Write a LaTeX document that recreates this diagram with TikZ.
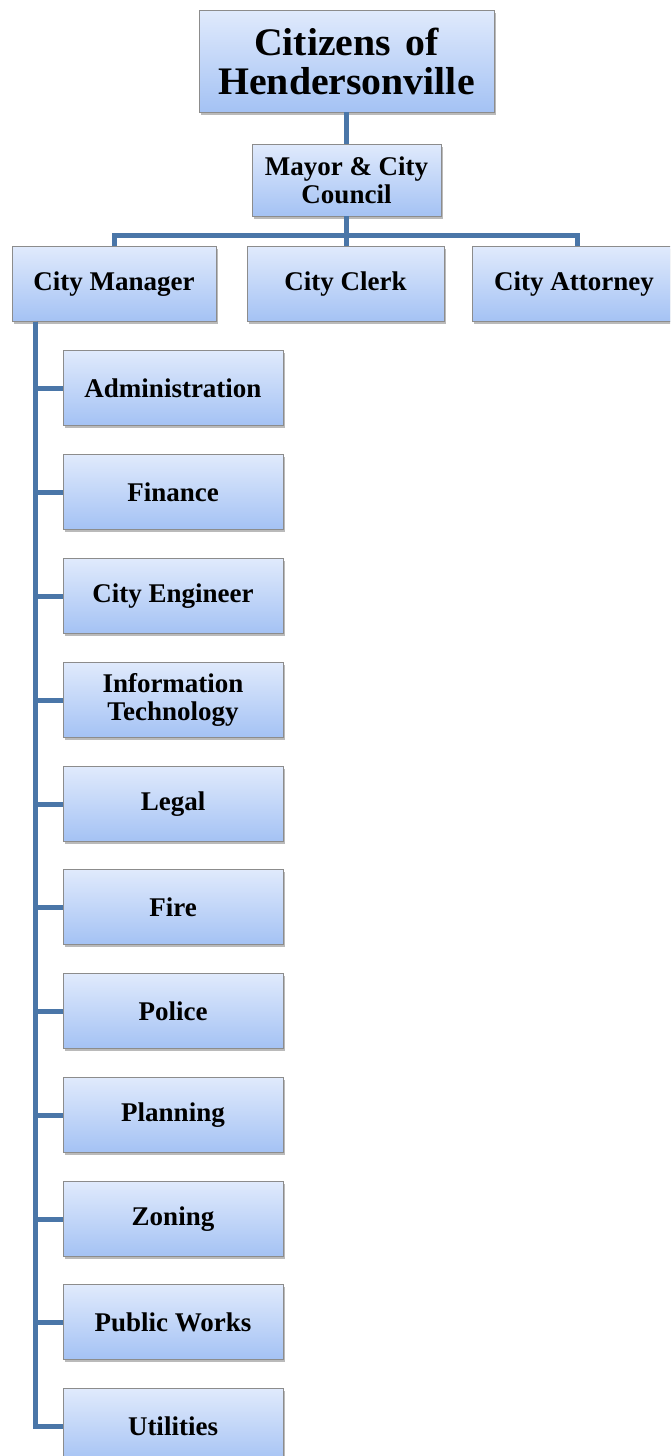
\documentclass[tikz,border=0pt]{standalone}
\usepackage{fontspec}
\setmainfont{Liberation Serif}
\newfontfamily\titlefont[FakeStretch=1.02]{Liberation Serif}
\usetikzlibrary{shadows}
\definecolor{boxtop}{HTML}{E0EAFC}
\definecolor{boxbot}{HTML}{A4C2F4}
\definecolor{boxline}{HTML}{8C8C8C}
\definecolor{linkblue}{HTML}{4A76A8}
\tikzset{
  orgbox/.style={draw=boxline, line width=0.8pt, top color=boxtop, bottom color=boxbot,
    inner sep=0pt, align=center, font=\bfseries\fontsize{27}{28}\selectfont,
    drop shadow={shadow xshift=2pt, shadow yshift=-2.5pt, opacity=0.45, fill=black!60}},
  dept/.style={orgbox, minimum width=220pt, minimum height=75pt},
  link/.style={draw=linkblue, line width=5pt}
}
\begin{document}
\begin{tikzpicture}[x=1pt, y=-1pt]
\useasboundingbox (0,0) rectangle (670,1456);
\clip (0,0) rectangle (670,1456);
% top levels
\node[orgbox, minimum width=295pt, minimum height=102pt,
      font=\titlefont\bfseries\fontsize{39}{39}\selectfont] (cit) at (346.5,61)
      {Citizens\hspace{0.12em} of\\Hendersonville};
\node[orgbox, minimum width=189pt, minimum height=72pt] (may) at (346.5,180) {Mayor \& City\\Council};
\node[orgbox, minimum width=204pt, minimum height=75pt] (mgr) at (114,284) {City Manager};
\node[orgbox, minimum width=197pt, minimum height=75pt] (clk) at (345.5,284) {City Clerk};
\node[orgbox, minimum width=210pt, minimum height=75pt] (att) at (577,284) {};
\node[font=\bfseries\fontsize{27}{28}\selectfont] (attl) at (574,284) {City Attorney};
% departments under the city manager
\node[dept] (d1)  at (173,388)  {Administration};
\node[dept] (d2)  at (173,492)  {Finance};
\node[dept] (d3)  at (173,596)  {City Engineer};
\node[dept] (d4)  at (173,700)  {Information\\Technology};
\node[dept] (d5)  at (173,804)  {Legal};
\node[dept] (d6)  at (173,907)  {Fire};
\node[dept] (d7)  at (173,1011) {Police};
\node[dept] (d8)  at (173,1115) {Planning};
\node[dept] (d9)  at (173,1219) {Zoning};
\node[dept] (d10) at (173,1322) {Public Works};
\node[dept] (d11) at (173,1426) {Utilities};
% connectors
\coordinate (bar) at (346.5,235);
\path[link] (cit.south) -- (may.north);
\path[link] (may.south) -- (bar);
\path[link] (mgr.north) |- (bar);
\path[link] (bar) -- (bar |- clk.north);
\path[link] (bar) -| (att.north);
\foreach \d in {d1,d2,d3,d4,d5,d6,d7,d8,d9,d10,d11}
  \path[link] ([xshift=-79pt]mgr.south) |- (\d.west);
\end{tikzpicture}
\end{document}
